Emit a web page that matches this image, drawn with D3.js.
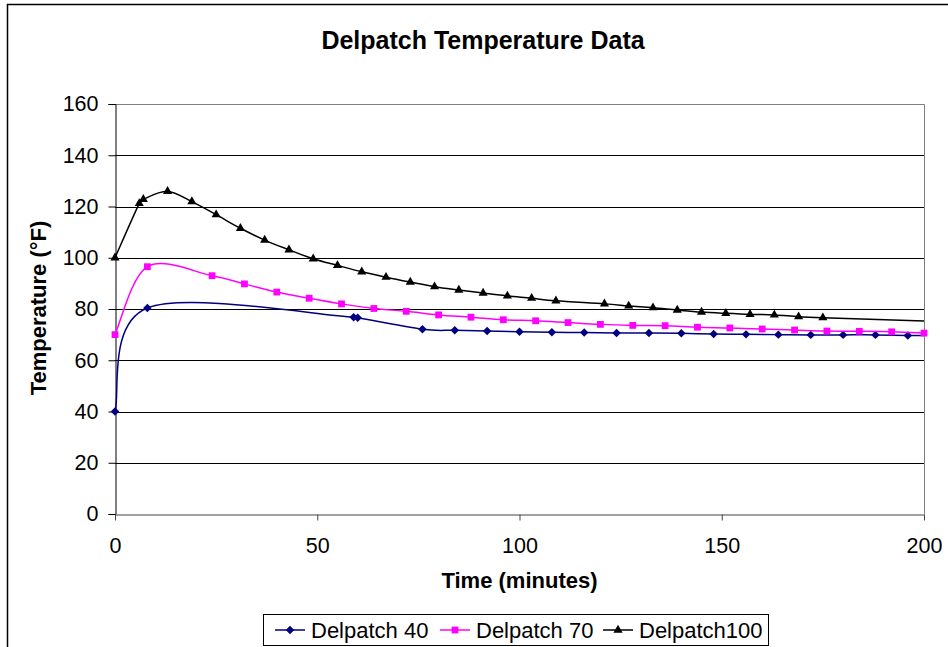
<!DOCTYPE html>
<html>
<head>
<meta charset="utf-8">
<script src="https://cdn.jsdelivr.net/npm/d3@7"></script>
<style>
  body { margin: 0; background: #fff; }
  text { font-family: "Liberation Sans", Arial, sans-serif; fill: #000; }
</style>
</head>
<body>
<div id="chart"></div>
<script>
// Values
const TIME_40 = [0, 8, 59, 60, 76, 84, 92, 100, 108, 116, 124, 132, 140, 148, 156, 164, 172, 180, 188, 196, 204];
const TEMP_40 = [40, 80.4, 76.8, 76.6, 72.1, 71.7, 71.4, 71.1, 70.9, 70.8, 70.6, 70.6, 70.5, 70.2, 70.1, 70.0, 69.9, 69.9, 69.9, 69.7, 69.6];

const TIME_70 = [0, 8, 24, 32, 40, 48, 56, 64, 72, 80, 88, 96, 104, 112, 120, 128, 136, 144, 152, 160, 168, 176, 184, 192, 200];
const TEMP_70 = [70, 96.5, 93.0, 89.8, 86.6, 84.2, 82.0, 80.2, 79.1, 77.7, 76.8, 75.8, 75.4, 74.7, 74.0, 73.6, 73.5, 72.9, 72.6, 72.2, 71.8, 71.4, 71.3, 71.1, 70.6];

const TIME_100 = [0, 6, 7, 13, 19, 25, 31, 37, 43, 49, 55, 61, 67, 73, 79, 85, 91, 97, 103, 109, 121, 127, 133, 139, 145, 151, 157, 163, 169, 175, 235];
const TEMP_100 = [100, 121.2, 122.8, 125.9, 121.9, 116.8, 111.5, 106.9, 103.1, 99.6, 97.0, 94.5, 92.4, 90.5, 88.7, 87.4, 86.2, 85.1, 84.2, 83.2, 82.0, 81.2, 80.5, 79.6, 78.8, 78.3, 77.9, 77.7, 77.0, 76.6, 73.5];

const SERIES_NAMES = ["Delpatch 40", "Delpatch 70", "Delpatch100"];
const SERIES_COLORS = ["#000080", "#ff00ff", "#000000"];
const X_TICKS = [0, 50, 100, 150, 200];
const Y_TICKS = [0, 20, 40, 60, 80, 100, 120, 140, 160];

const series = [
  { name: SERIES_NAMES[0], color: SERIES_COLORS[0], marker: "diamond", values: TIME_40.map((t, i) => [t, TEMP_40[i]]) },
  { name: SERIES_NAMES[1], color: SERIES_COLORS[1], marker: "square", values: TIME_70.map((t, i) => [t, TEMP_70[i]]) },
  { name: SERIES_NAMES[2], color: SERIES_COLORS[2], marker: "triangle", values: TIME_100.map((t, i) => [t, TEMP_100[i]]) }
];

// Margin convention
const W = 948, H = 647;
const margin = { top: 104, left: 115, right: 24, bottom: 133 };
const width = W - margin.left - margin.right,
  height = H - margin.top - margin.bottom;

const xScale = d3.scaleLinear().domain([0, 200]).range([0, width]);
const yScale = d3.scaleLinear().domain([0, 160]).range([height, 0]);

// Excel-like smoothing: bezier with 1/6 tangents, arms capped at half the segment
function smoothPath(pts) {
  const p = d3.path();
  const n = pts.length;
  const dist = (a, b) => Math.hypot(b[0] - a[0], b[1] - a[1]);
  p.moveTo(pts[0][0], pts[0][1]);
  for (let i = 0; i < n - 1; i++) {
    const p0 = pts[Math.max(i - 1, 0)], p1 = pts[i], p2 = pts[i + 1], p3 = pts[Math.min(i + 2, n - 1)];
    const d12 = dist(p1, p2), d02 = dist(p0, p2), d13 = dist(p1, p3);
    const f1 = d02 / 6 < d12 / 2 ? 1 / 6 : (d12 / 2) / d02;
    const f2 = d13 / 6 < d12 / 2 ? 1 / 6 : (d12 / 2) / d13;
    p.bezierCurveTo(
      p1[0] + f1 * (p2[0] - p0[0]), p1[1] + f1 * (p2[1] - p0[1]),
      p2[0] - f2 * (p3[0] - p1[0]), p2[1] - f2 * (p3[1] - p1[1]),
      p2[0], p2[1]);
  }
  return p.toString();
}

function markerPath(type) {
  if (type === "square") return d3.symbol(d3.symbolSquare, 46)();
  if (type === "triangle") return d3.symbol(d3.symbolTriangle, 36)();
  return d3.symbol(d3.symbolSquare, 36)();
}

const svg = d3.select("#chart").append("svg")
  .attr("width", W)
  .attr("height", H);

svg.append("rect").attr("width", W).attr("height", H).attr("fill", "#fff");

// Chart area frame (runs off the bottom/right of the picture)
svg.append("rect")
  .attr("x", 7.5).attr("y", 4.5)
  .attr("width", W + 20).attr("height", H + 20)
  .attr("fill", "none")
  .attr("stroke", "#000")
  .attr("stroke-width", 1.5);

svg.append("text")
  .attr("x", 483).attr("y", 49)
  .attr("text-anchor", "middle")
  .style("font-size", "25px")
  .style("font-weight", "bold")
  .text("Delpatch Temperature Data");

const g = svg.append("g")
  .attr("transform", "translate(" + margin.left + "," + margin.top + ")");

// Gridlines
g.append("g")
  .selectAll("line")
  .data(Y_TICKS.slice(1))
  .join("line")
    .attr("x1", 0).attr("x2", width)
    .attr("y1", d => Math.round(yScale(d)) + 0.5)
    .attr("y2", d => Math.round(yScale(d)) + 0.5)
    .attr("stroke", "#000");

// Plot area border (top/right)
g.append("path")
  .attr("d", "M0,0.5H" + (width + 0.5) + "V" + height)
  .attr("fill", "none")
  .attr("stroke", "#808080");

// Y axis
const yAxis = g.append("g")
  .attr("transform", "translate(0.5,0)")
  .call(d3.axisLeft(yScale).tickValues(Y_TICKS).tickSize(7).tickPadding(10));
yAxis.select(".domain").attr("stroke", "#000");
yAxis.selectAll(".tick line").attr("stroke", "#000");
yAxis.selectAll("text").style("font-size", "21.5px").attr("font-family", null);

// X axis
const xAxis = g.append("g")
  .attr("transform", "translate(0," + (height + 0.5) + ")")
  .call(d3.axisBottom(xScale).tickValues(X_TICKS).tickSize(6).tickSizeOuter(0).tickPadding(17));
xAxis.select(".domain").attr("stroke", "#444");
xAxis.selectAll(".tick line").attr("stroke", "#444");
xAxis.selectAll("text").style("font-size", "21.5px").attr("font-family", null);

// Axis titles
svg.append("text")
  .attr("x", margin.left + width / 2).attr("y", 588)
  .attr("text-anchor", "middle")
  .style("font-size", "22px")
  .style("font-weight", "bold")
  .text("Time (minutes)");

svg.append("text")
  .attr("transform", "translate(46,308) rotate(-90)")
  .attr("text-anchor", "middle")
  .style("font-size", "22px")
  .style("font-weight", "bold")
  .text("Temperature (°F)");

// Series
g.append("clipPath").attr("id", "plot-clip")
  .append("rect").attr("x", -2).attr("y", -2).attr("width", width + 2).attr("height", height + 4);

series.forEach(s => {
  const pts = s.values.map(d => [xScale(d[0]), yScale(d[1])]);
  g.append("path")
    .attr("d", smoothPath(pts))
    .attr("clip-path", "url(#plot-clip)")
    .attr("fill", "none")
    .attr("stroke", s.color)
    .attr("stroke-width", 1.5);

  g.append("g")
    .selectAll("path")
    .data(s.values.filter(d => d[0] <= 200))
    .join("path")
      .attr("d", markerPath(s.marker))
      .attr("transform", d => "translate(" + xScale(d[0]) + "," + yScale(d[1]) + ")" + (s.marker === "diamond" ? " rotate(45)" : ""))
      .attr("fill", s.color);
});

// Legend
const legend = svg.append("g");
legend.append("rect")
  .attr("x", 263.5).attr("y", 614.5)
  .attr("width", 505).attr("height", 31)
  .attr("fill", "#fff")
  .attr("stroke", "#000");

const legendX = [275, 440, 603];
series.forEach((s, i) => {
  const item = legend.append("g").attr("transform", "translate(" + legendX[i] + ",630)");
  item.append("line")
    .attr("x1", 0).attr("x2", 30)
    .attr("stroke", s.color)
    .attr("stroke-width", 1.5);
  item.append("path")
    .attr("d", markerPath(s.marker))
    .attr("transform", "translate(15,0)" + (s.marker === "diamond" ? " rotate(45)" : ""))
    .attr("fill", s.color);
  item.append("text")
    .attr("x", 36).attr("y", 8)
    .style("font-size", "22px")
    .text(s.name);
});
</script>
</body>
</html>
